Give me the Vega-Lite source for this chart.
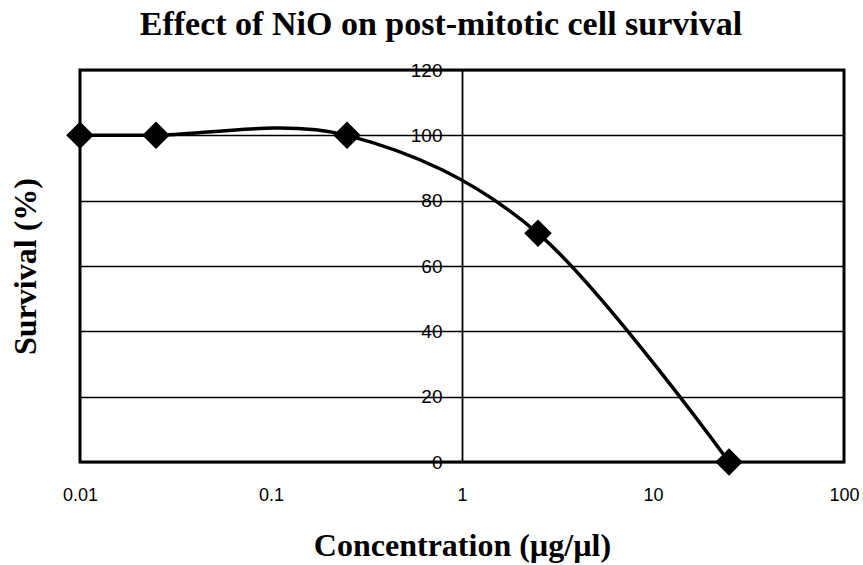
{
  "$schema": "https://vega.github.io/schema/vega-lite/v6.json",
  "width": 764,
  "height": 392,
  "autosize": {"type": "none"},
  "padding": {"left": 80, "top": 70, "right": 19, "bottom": 103},
  "background": "white",
  "title": {
    "text": "Effect of NiO on post-mitotic cell survival",
    "font": "Liberation Serif",
    "fontSize": 34,
    "fontWeight": "bold",
    "color": "black",
    "dx": -21,
    "offset": -8,
    "baseline": "alphabetic"
  },
  "config": {
    "view": {"stroke": "black", "strokeWidth": 3}
  },
  "data": {
    "values": [
      {"conc": 0.01, "survival": 100},
      {"conc": 0.025, "survival": 100},
      {"conc": 0.25, "survival": 100},
      {"conc": 2.5, "survival": 70},
      {"conc": 25, "survival": 0}
    ]
  },
  "encoding": {
    "x": {
      "field": "conc",
      "type": "quantitative",
      "scale": {"type": "log", "domain": [0.01, 100], "nice": false},
      "axis": {
        "values": [0.01, 0.1, 1, 10, 100],
        "format": "~g",
        "grid": false,
        "domain": false,
        "ticks": false,
        "labelPadding": 24,
        "labelFlush": false,
        "labelOverlap": false,
        "labelFont": "Liberation Sans",
        "labelFontSize": 18,
        "labelColor": "black",
        "title": "Concentration (µg/µl)",
        "titleFont": "Liberation Serif",
        "titleFontSize": 32,
        "titleFontWeight": "bold",
        "titleColor": "black",
        "titleY": 93,
        "titleBaseline": "alphabetic"
      }
    },
    "y": {
      "field": "survival",
      "type": "quantitative",
      "scale": {"domain": [0, 120], "nice": false},
      "axis": {
        "orient": "left",
        "offset": -382,
        "values": [0, 20, 40, 60, 80, 100, 120],
        "grid": true,
        "gridColor": "black",
        "gridWidth": 1.4,
        "gridOpacity": 1,
        "domain": true,
        "domainColor": "black",
        "domainWidth": 1.8,
        "ticks": false,
        "labelPadding": 20,
        "labelFlush": false,
        "labelOverlap": false,
        "labelFont": "Liberation Sans",
        "labelFontSize": 19,
        "labelColor": "black",
        "title": "Survival (%)",
        "titleFont": "Liberation Serif",
        "titleFontSize": 32,
        "titleFontWeight": "bold",
        "titleColor": "black",
        "titleX": -437,
        "titleY": 196,
        "titleAngle": -90,
        "titleAlign": "center",
        "titleBaseline": "middle"
      }
    }
  },
  "layer": [
    {
      "mark": {"type": "line", "color": "black", "strokeWidth": 3.5, "interpolate": "cardinal", "tension": 0}
    },
    {
      "mark": {"type": "point", "shape": "diamond", "filled": true, "color": "black", "opacity": 1, "size": 760}
    }
  ]
}
